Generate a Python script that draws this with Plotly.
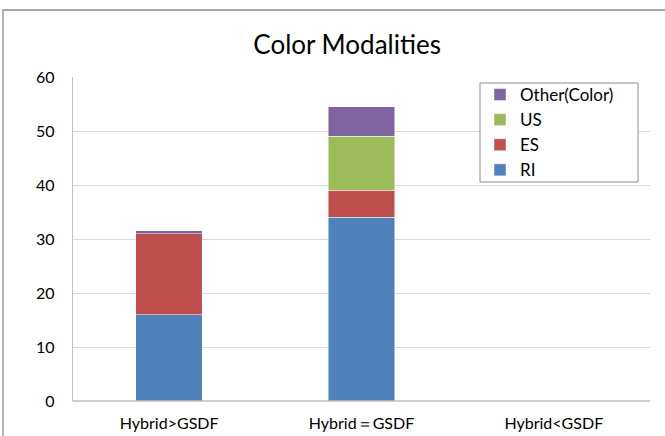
import plotly.graph_objects as go

categories = ["Hybrid>GSDF", "Hybrid\uff1dGSDF", "Hybrid<GSDF"]
ri = [16, 34, 0]
es = [15, 5, 0]
us = [0, 10, 0]
other = [0.5, 5.5, 0]
series_names = ["RI", "ES", "US", "Other(Color)"]
series_values = [ri, es, us, other]
series_colors = ["#4F81BD", "#C0504D", "#9BBB59", "#8064A2"]
y_ticks = [0, 10, 20, 30, 40, 50, 60]

fig = go.Figure()
for name, vals, col in zip(series_names, series_values, series_colors):
    fig.add_trace(go.Bar(
        x=categories, y=vals, name=name,
        marker=dict(color=col, line=dict(color="rgba(255,255,255,0.6)", width=0.8)),
    ))

W, H = 665, 436
L, R, T, B = 73, 15, 77, 35
pw, ph = W - L - R, H - T - B

def px(x):
    return (x - L) / pw

def py(y):
    return (H - B - y) / ph

fig.update_layout(
    width=W, height=H,
    margin=dict(l=L, r=R, t=T, b=B, autoexpand=False),
    barmode="stack",
    bargap=0.655,
    paper_bgcolor="white",
    plot_bgcolor="white",
    font=dict(family="Lato, Open Sans, sans-serif", color="#000000", size=15),
    title=dict(text="Color Modalities", x=0.522, xanchor="center",
               y=1 - 45 / H, yanchor="middle",
               font=dict(size=26, color="#000000")),
    xaxis=dict(showgrid=False, showline=False, ticks="",
               tickfont=dict(size=16), range=[-0.5, 2.5],
               ticklabelstandoff=11),
    yaxis=dict(range=[0, 60], tickvals=y_ticks, showgrid=True,
               gridcolor="#D9D9D9", gridwidth=1.3, zeroline=False,
               showline=True, linecolor="#BFBFBF", linewidth=1.3,
               ticks="", ticklen=0, tickfont=dict(size=16),
               ticklabelstandoff=14),
    legend=dict(x=px(480), y=py(77), xanchor="left", yanchor="top",
                traceorder="reversed", borderwidth=0,
                bgcolor="rgba(0,0,0,0)", font=dict(size=17),
                itemwidth=30, tracegroupgap=0),
    showlegend=True,
    shapes=[
        dict(type="line", xref="paper", yref="paper", x0=0, x1=1, y0=0, y1=0,
             line=dict(color="#BFBFBF", width=1.3)),
        dict(type="rect", xref="paper", yref="paper",
             x0=px(3), x1=px(675), y0=py(10), y1=py(446),
             line=dict(color="#8C8C8C", width=1.3), layer="below"),
        dict(type="rect", xref="paper", yref="paper",
             x0=px(480), x1=px(638), y0=py(83), y1=py(182),
             line=dict(color="#8C8C8C", width=1), fillcolor="white", layer="above"),
    ],
)

fig.write_html("out.html",
               config={"displayModeBar": False},
               post_script="document.body.style.margin='0';document.body.style.overflow='hidden';")
